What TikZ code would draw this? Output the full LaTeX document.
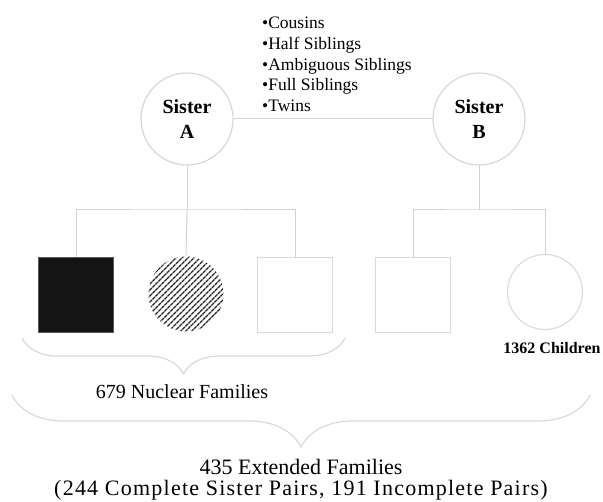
\documentclass[tikz,border=0pt]{standalone}
\usepackage{fontspec}
\setmainfont{Liberation Serif}
\usepackage{tikz}
\usetikzlibrary{positioning,decorations.pathreplacing,patterns.meta}

\begin{document}
\begin{tikzpicture}[x=1pt, y=-1pt,
    line/.style={draw=black!18, line width=1pt},
    sister/.style={circle, draw=black!17, line width=1.1pt, minimum size=92pt, inner sep=0pt,
      align=center, font=\fontsize{20}{25}\selectfont\bfseries},
    son/.style={rectangle, draw=black!15, line width=1.1pt, minimum size=75pt, inner sep=0pt},
    daughter/.style={circle, draw=black!15, line width=1.1pt, minimum size=75pt, inner sep=0pt},
    bracegroup/.style={draw=black!15, line width=1.2pt, decorate}]
        \useasboundingbox (0,0) rectangle (603,502);
        % the two sisters and their relation types
        \node[sister] (sisA) at (187,119) {Sister\\A};
        \node[sister] (sisB) at (479,119) {Sister\\B};
        \draw[line] (sisA) -- (sisB);
        \node[anchor=north west, align=left, inner sep=0pt, font=\fontsize{17.5}{20.7}\selectfont]
          (kinds) at (262,17) {•Cousins\\•Half Siblings\\•Ambiguous Siblings\\•Full Siblings\\•Twins};
        % children of sister A
        \node[son, fill=black!92, draw=black!65] (kid1) at (76,295) {};
        \node[daughter, draw=none, pattern={Lines[angle=45,distance=4pt,line width=1.6pt]},
          pattern color=black!85] (kid2) at (186,294) {};
        \node[son] (kid3) at (295,295) {};
        % children of sister B
        \node[son] (kid4) at (413,295) {};
        \node[daughter] (kid5) at (545,292) {};
        \node[font=\fontsize{16}{18}\selectfont\bfseries] (children) at (552,348) {1362 Children};
        % sibship lines
        \coordinate (famA) at (sisA |- 0,210);
        \coordinate (famB) at (sisB |- 0,210);
        \draw[line] (sisA) -- (famA);
        \draw[line] (kid1.north) |- (famA) -| (kid3.north);
        \draw[line] (famA) -- (kid2.north);
        \draw[line] (sisB) -- (famB);
        \draw[line] (kid4.north) |- (famB) -| (kid5.north);
        % braces and counts
        \draw[bracegroup, decoration={brace, mirror, amplitude=36pt}] (22,338) -- (345,338);
        \node[font=\fontsize{20}{23}\selectfont] (nuclear) at (182,392) {679 Nuclear Families};
        \draw[bracegroup, decoration={brace, mirror, amplitude=52pt}] (12,395) -- (590,395);
        \node[align=center, font=\fontsize{22}{21}\selectfont] (extended) at (301,480)
          {435 Extended Families\\{\addfontfeature{LetterSpace=5.6}(244 Complete Sister Pairs, 191 Incomplete Pairs)}};
\end{tikzpicture}
\end{document}
